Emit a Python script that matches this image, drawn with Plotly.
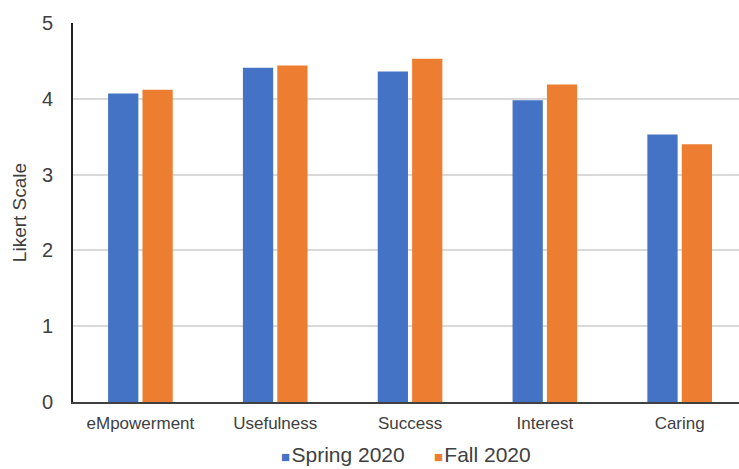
import plotly.graph_objects as go

categories = ["eMpowerment", "Usefulness", "Success", "Interest", "Caring"]
spring_2020 = [4.07, 4.41, 4.36, 3.98, 3.53]
fall_2020 = [4.12, 4.44, 4.53, 4.19, 3.40]
y_ticks = [0, 1, 2, 3, 4, 5]
series_names = ["Spring 2020", "Fall 2020"]
series_colors = ["#4472C4", "#ED7D31"]

fig = go.Figure()
for name, vals, col in zip(series_names, [spring_2020, fall_2020], series_colors):
    fig.add_trace(go.Bar(name=name, x=categories, y=vals, showlegend=False,
                         marker=dict(color=col, line=dict(width=0))))

legend_text = "&nbsp;&nbsp;&nbsp;&nbsp;&nbsp;".join(
    f"<span style='color:{c};font-size:15px'>■</span><span style='font-size:5px'> </span>{n}"
    for n, c in zip(series_names, series_colors))
fig.add_annotation(text=legend_text, xref="x domain", yref="paper",
                   x=0.5, y=-0.138, xanchor="center", yanchor="middle",
                   showarrow=False, font=dict(size=21, color="#404040"))

fig.update_layout(
    width=739, height=469,
    margin=dict(l=73, r=0, t=23, b=67),
    paper_bgcolor="white", plot_bgcolor="white",
    barmode="group", bargap=0.49, bargroupgap=0.12,
    font=dict(family="Liberation Sans, Arial, sans-serif", color="#404040"),
    showlegend=False,
    xaxis=dict(range=[-0.5, 4.44], showgrid=False, showline=True,
               linecolor="#404040", linewidth=1.5, ticks="",
               ticklabelstandoff=5,
               tickfont=dict(size=17, color="#404040")),
    yaxis=dict(range=[0, 5], tickvals=y_ticks, showgrid=True,
               gridcolor="#d9d9d9", gridwidth=1.5, showline=True,
               linecolor="#222222", linewidth=2, ticks="",
               ticklabelstandoff=14, zeroline=False,
               tickfont=dict(size=20, color="#404040")),
)
fig.update_yaxes(title=dict(text="Likert Scale", font=dict(size=19, color="#404040"), standoff=10))

fig.write_html("out.html")
